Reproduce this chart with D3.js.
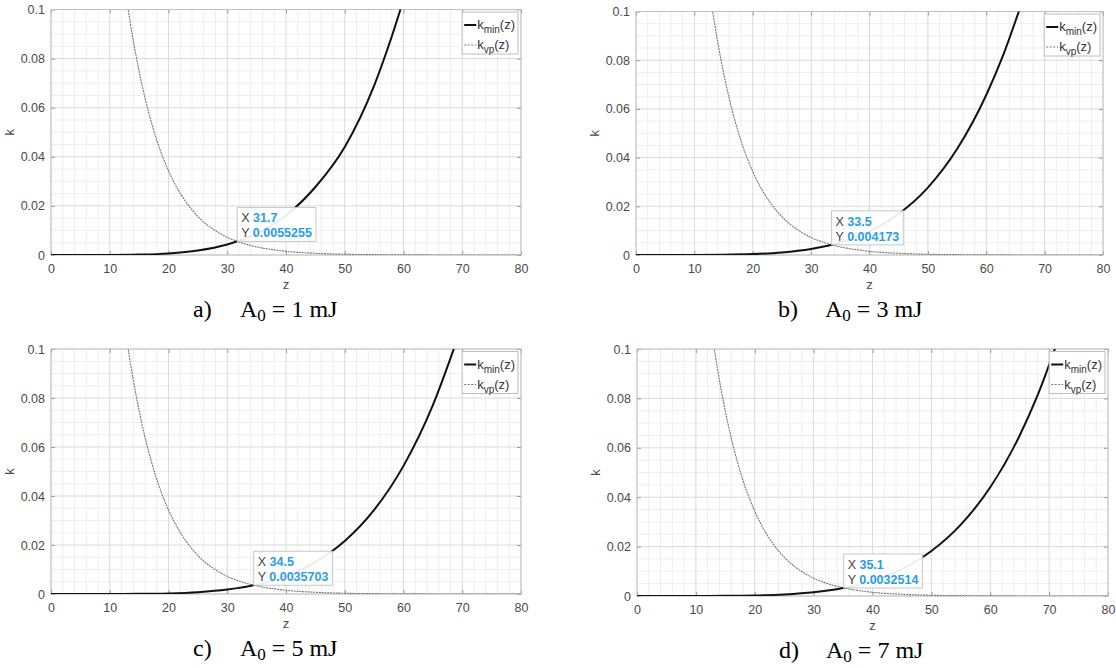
<!DOCTYPE html>
<html>
<head>
<meta charset="utf-8">
<script src="https://cdn.jsdelivr.net/npm/d3@7"></script>
<style>
  body { margin: 0; background: #fff; }
  svg { display: block; }
</style>
</head>
<body>
<script>
// Panel labels and pulse energies (mJ)
const panelLetters = ["a)", "b)", "c)", "d)"];
const energies = [1, 3, 5, 7];

// Data tip readouts (crossing points)
const tipX = [31.7, 33.5, 34.5, 35.1];
const tipY = [0.0055255, 0.004173, 0.0035703, 0.0032514];

// k_vp(z): same curve in all four panels
const zVp = [13, 14, 15, 16, 18, 20, 22, 24, 26, 28, 30, 32, 35, 38, 40, 45, 50, 55, 60, 70, 80];
const kVp = [0.102, 0.0874, 0.0748, 0.064, 0.0468, 0.0343, 0.0251, 0.0184, 0.0134, 0.0099, 0.0072,
             0.0053, 0.0033, 0.0021, 0.0015, 0.0007, 0.0003, 0.00015, 0.00007, 0.00001, 0.000003];

// k_min(z), one series per panel
const zMinA = [0, 5, 10, 15, 20, 25, 30, 35, 40, 45, 50, 55, 58, 60];
const kMinA = [0, 0.000001, 0.000027, 0.00018, 0.00066, 0.00185, 0.0043, 0.0087, 0.0161, 0.0277, 0.044, 0.0690, 0.089, 0.104];

const zMinB = [0, 5, 10, 15, 20, 25, 30, 35, 40, 45, 50, 55, 60, 63, 66];
const kMinB = [0, 0.0000005, 0.000014, 0.000093, 0.00036, 0.00105, 0.0025, 0.0051, 0.0097, 0.0169, 0.0277, 0.0435, 0.0657, 0.0827, 0.103];

const zMinC = [0, 5, 10, 15, 20, 25, 30, 35, 40, 45, 50, 55, 60, 65, 69];
const kMinC = [0, 0.0000003, 0.0000088, 0.000063, 0.00025, 0.00075, 0.0018, 0.0038, 0.0073, 0.013, 0.0216, 0.0343, 0.0523, 0.0771, 0.103];

const zMinD = [0, 5, 10, 15, 20, 25, 30, 35, 40, 45, 50, 55, 60, 65, 68, 72];
const kMinD = [0, 0.0000003, 0.0000073, 0.000052, 0.00021, 0.00063, 0.0015, 0.0032, 0.0061, 0.0109, 0.0182, 0.0289, 0.044, 0.065, 0.081, 0.107];

const zMinAll = [zMinA, zMinB, zMinC, zMinD];
const kMinAll = [kMinA, kMinB, kMinC, kMinD];

// Axis limits / labels
const xDomain = [0, 80];
const yDomain = [0, 0.1];
const legendNames = [["k", "min", "(z)"], ["k", "vp", "(z)"]];

// Layout of the four axes boxes (pixels)
const boxes = [
    { left: 51, right: 521, top: 9.5, bottom: 255 },
    { left: 636, right: 1103, top: 11.5, bottom: 255 },
    { left: 51, right: 521, top: 349, bottom: 594 },
    { left: 637, right: 1108, top: 349, bottom: 596 }
];

const sans = "'Liberation Sans', Arial, Helvetica, sans-serif";
const serif = "'Liberation Serif', 'Times New Roman', serif";

const svg = d3.select("body")
    .append("svg")
    .attr("width", 1116)
    .attr("height", 668);

const defs = svg.append("defs");

boxes.forEach((b, i) => {
    const width = b.right - b.left,
          height = b.bottom - b.top;

    const x = d3.scaleLinear().domain(xDomain).range([0, width]);
    const y = d3.scaleLinear().domain(yDomain).range([height, 0]);

    const g = svg.append("g")
        .attr("transform", `translate(${b.left},${b.top})`);

    defs.append("clipPath")
        .attr("id", "clip" + i)
        .append("rect")
        .attr("width", width)
        .attr("height", height);

    g.append("rect")
        .attr("width", width)
        .attr("height", height)
        .attr("fill", "#fff");

    // Minor grid
    const minorX = d3.range(0, 80.001, 2).filter(v => v % 10 !== 0);
    const minorY = d3.range(0, 0.1001, 0.005).filter((v, j) => j % 4 !== 0);

    g.append("g").selectAll("line")
        .data(minorX)
        .join("line")
        .attr("x1", d => x(d)).attr("x2", d => x(d))
        .attr("y1", 0).attr("y2", height)
        .style("stroke", "#eeeeee")
        .style("stroke-width", 1);

    g.append("g").selectAll("line")
        .data(minorY)
        .join("line")
        .attr("x1", 0).attr("x2", width)
        .attr("y1", d => y(d)).attr("y2", d => y(d))
        .style("stroke", "#eeeeee")
        .style("stroke-width", 1);

    // Major grid
    g.append("g").selectAll("line")
        .data(x.ticks(8))
        .join("line")
        .attr("x1", d => x(d)).attr("x2", d => x(d))
        .attr("y1", 0).attr("y2", height)
        .style("stroke", "#dadada")
        .style("stroke-width", 1);

    g.append("g").selectAll("line")
        .data(y.ticks(5))
        .join("line")
        .attr("x1", 0).attr("x2", width)
        .attr("y1", d => y(d)).attr("y2", d => y(d))
        .style("stroke", "#dadada")
        .style("stroke-width", 1);

    // Axes (inward ticks, box on)
    const fmtY = d => d === 0 ? "0" : String(+d.toFixed(2));

    const axB = g.append("g")
        .attr("transform", `translate(0,${height})`)
        .call(d3.axisBottom(x).ticks(8).tickSize(-4).tickPadding(9));
    const axL = g.append("g")
        .call(d3.axisLeft(y).ticks(5).tickSize(-4).tickPadding(6).tickFormat(fmtY));
    const axT = g.append("g")
        .call(d3.axisTop(x).ticks(8).tickSize(-4).tickFormat(""));
    const axR = g.append("g")
        .attr("transform", `translate(${width},0)`)
        .call(d3.axisRight(y).ticks(5).tickSize(-4).tickFormat(""));

    [axB, axL, axT, axR].forEach(ax => {
        ax.select(".domain").remove();
        ax.selectAll(".tick line").style("stroke", "#9a9a9a");
        ax.selectAll("text")
            .style("font-family", sans)
            .style("font-size", "12.5px")
            .style("fill", "#4a4a4a");
    });

    g.append("rect")
        .attr("width", width)
        .attr("height", height)
        .attr("fill", "none")
        .style("stroke", "#c2c2c2")
        .style("stroke-width", 1);

    // Curves
    const line = d3.line()
        .curve(d3.curveMonotoneX)
        .x(p => x(p[0]))
        .y(p => y(p[1]));

    const plot = g.append("g").attr("clip-path", `url(#clip${i})`);

    plot.append("path")
        .datum(d3.zip(zVp, kVp))
        .attr("fill", "none")
        .attr("stroke", "#777")
        .attr("stroke-width", 1.1)
        .attr("stroke-dasharray", "2,0.8")
        .attr("d", line);

    plot.append("path")
        .datum(d3.zip(zMinAll[i], kMinAll[i]))
        .attr("fill", "none")
        .attr("stroke", "#111")
        .attr("stroke-width", 2)
        .attr("d", line);

    // Axis labels
    g.append("text")
        .attr("x", width / 2)
        .attr("y", height + 34)
        .attr("text-anchor", "middle")
        .style("font-family", sans)
        .style("font-size", "13px")
        .style("fill", "#4a4a4a")
        .text("z");

    g.append("text")
        .attr("transform", "rotate(-90)")
        .attr("x", -height / 2)
        .attr("y", -37)
        .attr("text-anchor", "middle")
        .style("font-family", sans)
        .style("font-size", "13px")
        .style("fill", "#4a4a4a")
        .text("k");

    // Legend
    const legend = g.append("g");
    const legRect = legend.append("rect")
        .attr("fill", "#fff")
        .style("stroke", "#bdbdbd")
        .style("stroke-width", 1);

    const rows = legend.selectAll("g.row")
        .data(legendNames)
        .join("g")
        .attr("class", "row")
        .attr("transform", (d, j) => `translate(0,${13 + j * 20})`);

    rows.append("line")
        .attr("x1", 2).attr("x2", 14)
        .attr("y1", 0).attr("y2", 0)
        .attr("stroke", (d, j) => j === 0 ? "#111" : "#777")
        .attr("stroke-width", (d, j) => j === 0 ? 2 : 1)
        .attr("stroke-dasharray", (d, j) => j === 0 ? null : "2,1.5");

    const legText = rows.append("text")
        .attr("x", 15)
        .attr("y", 4)
        .style("font-family", sans)
        .style("font-size", "13px")
        .style("fill", "#333");
    legText.append("tspan").text(d => d[0]);
    legText.append("tspan").attr("dy", 4).style("font-size", "10px").text(d => d[1]);
    legText.append("tspan").attr("dy", -4).text(d => d[2]);

    let legW = 0;
    legText.each(function() { legW = Math.max(legW, this.getComputedTextLength()); });
    legW = legW + 18;
    legRect.attr("width", legW).attr("height", 42);
    legend.attr("transform", `translate(${width - legW - 3},2.5)`);

    // Data tip
    const tx = x(tipX[i]), ty = y(tipY[i]);
    const tip = g.append("g").attr("transform", `translate(${tx},${ty})`);
    const tipRect = tip.append("rect")
        .attr("y", -34)
        .attr("height", 34)
        .attr("fill", "#fff")
        .attr("fill-opacity", 0.92)
        .style("stroke", "#c8c8c8")
        .style("stroke-width", 1);

    const tipRows = [["X", tipX[i]], ["Y", tipY[i]]];
    let tipW = 0;
    tipRows.forEach((r, j) => {
        const t = tip.append("text")
            .attr("x", 4)
            .attr("y", -34 + 15 + j * 15)
            .style("font-family", sans)
            .style("font-size", "12.5px");
        t.append("tspan").style("fill", "#444").text(r[0] + " ");
        t.append("tspan").style("fill", "#2a9de6").style("font-weight", "bold").text(String(r[1]));
        tipW = Math.max(tipW, t.node().getComputedTextLength());
    });
    tipRect.attr("width", tipW + 8);

    // Caption
    const cap = svg.append("g")
        .attr("transform", `translate(${b.left},${b.bottom + 62})`)
        .style("font-family", serif)
        .style("font-size", "24px")
        .style("fill", "#000");
    cap.append("text").attr("x", 142).text(panelLetters[i]);
    const ct = cap.append("text").attr("x", 189);
    ct.append("tspan").text("A");
    ct.append("tspan").attr("dy", 4).style("font-size", "17px").text("0");
    ct.append("tspan").attr("dy", -4).text(" = " + energies[i] + " mJ");
});
</script>
</body>
</html>
